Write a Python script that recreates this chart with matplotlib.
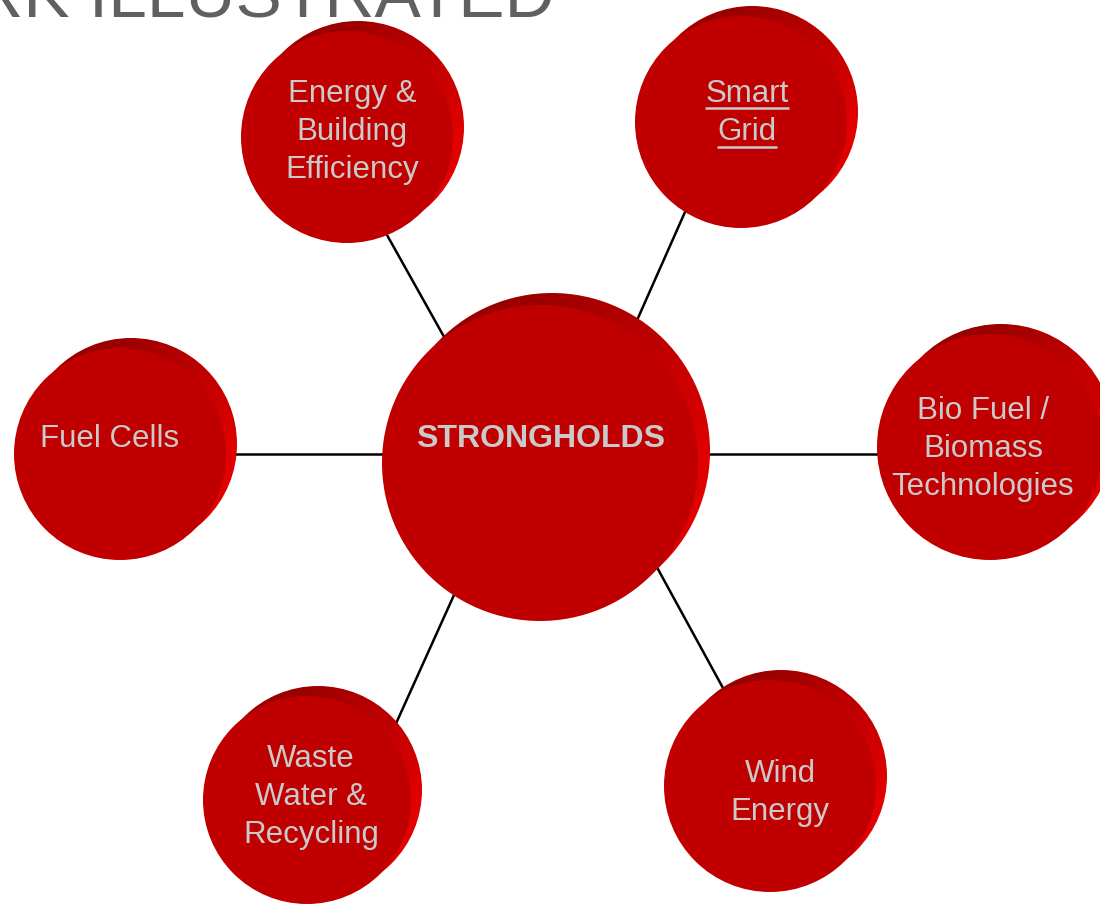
import numpy as np
import matplotlib
matplotlib.use("Agg")
import matplotlib.pyplot as plt
from matplotlib.patches import Circle

plt.rcParams['font.family'] = ['Liberation Sans', 'DejaVu Sans']

# ---- content ----
hub_label = "STRONGHOLDS"
labels = ["Energy &\nBuilding\nEfficiency", "Smart\nGrid", "Bio Fuel /\nBiomass\nTechnologies",
          "Wind\nEnergy", "Waste\nWater &\nRecycling", "Fuel Cells"]
underlined = [False, True, False, False, False, False]
title_text = "RK ILLUSTRATED"

# ---- layout (pixel coordinates, y downward) ----
hub_center = (540, 463)
hub_radius = 158
hub_text_pos = (541, 439)
sat_centers = [(347, 137), (741, 122), (990, 447), (770, 786), (307, 800), (120, 454)]
sat_radii = [106, 106, 113, 106, 104, 106]
text_pos = [(352, 132), (747, 113), (983, 449), (780, 793), (311, 797), (110, 439)]
# visible portion of each connector (extended under the circles)
connectors = [((387, 235), (443, 335)), ((685, 212), (638, 318)), ((710, 454), (877, 454)),
              ((659, 571), (723, 688)), ((454, 595), (403, 708)), ((237, 454), (383, 454))]

W, H = 1100, 905
fig = plt.figure(figsize=(W / 100, H / 100), dpi=100)
ax = fig.add_axes([0, 0, 1, 1])
ax.set_xlim(0, W)
ax.set_ylim(H, 0)
ax.set_aspect('equal')
ax.axis('off')

FACE = np.array([192, 0, 0]) / 255
DARK = np.array([155, 0, 0]) / 255
BRIGHT = np.array([226, 0, 0]) / 255
TXT = '#CACACA'

# connectors
for (p0, p1) in connectors:
    p0 = np.array(p0, float); p1 = np.array(p1, float)
    d = (p1 - p0) / np.linalg.norm(p1 - p0)
    a = p0 - d * 30
    b = p1 + d * 30
    ax.plot([a[0], b[0]], [a[1], b[1]], color='black', lw=1.8, zorder=1, solid_capstyle='butt')


def disc(cx, cy, r, dx, dy, z):
    # back (rim) circle with angular gradient
    bx, by = cx + dx, cy + dy
    x0, x1 = int(bx - r - 2), int(bx + r + 2)
    y0, y1 = int(by - r - 2), int(by + r + 2)
    xs = np.arange(x0, x1) + 0.5
    ys = np.arange(y0, y1) + 0.5
    X, Y = np.meshgrid(xs, ys)
    ang = np.degrees(np.arctan2(-(Y - cy), X - cx))
    t = np.clip(ang / 90.0, 0, 1)[..., None]
    img = BRIGHT * (1 - t) + DARK * t
    im = ax.imshow(img, extent=(x0, x1, y1, y0), origin='upper', zorder=z, interpolation='bilinear')
    back = Circle((bx, by), r, transform=ax.transData, facecolor='none', edgecolor='none')
    ax.add_patch(back)
    im.set_clip_path(back)
    ax.add_patch(Circle((cx, cy), r, facecolor=FACE, edgecolor='none', zorder=z + 0.5,
                        antialiased=True))


disc(hub_center[0], hub_center[1], hub_radius, 12, -12, 2)
for (cx, cy), r in zip(sat_centers, sat_radii):
    disc(cx, cy, r, 11, -10, 2)

ax.set_xlim(0, W)
ax.set_ylim(H, 0)

ax.text(hub_text_pos[0], hub_text_pos[1], hub_label, color=TXT, fontsize=23, fontweight='bold',
        ha='center', va='center', zorder=5)

line_gap = 39
underline_lines = []
for lab, (tx, ty), ul in zip(labels, text_pos, underlined):
    if not ul:
        ax.text(tx, ty, lab, color=TXT, fontsize=22.5, ha='center', va='center',
                linespacing=1.36, zorder=5)
    else:
        parts = lab.split("\n")
        n = len(parts)
        for i, p in enumerate(parts):
            yy = ty + (i - (n - 1) / 2) * line_gap
            t = ax.text(tx, yy, p, color=TXT, fontsize=22.5, ha='center', va='center', zorder=5)
            underline_lines.append(t)

fig.canvas.draw()
inv = ax.transData.inverted()
for t in underline_lines:
    bb = t.get_window_extent()
    (xa, ya), (xb, yb) = inv.transform([[bb.x0, bb.y0], [bb.x1, bb.y1]])
    x, y = t.get_position()
    ax.plot([xa, xb], [y + 15, y + 15], color=TXT, lw=1.8, zorder=5, solid_capstyle='butt')

ax.text(555, 17, title_text, color='#606060', fontsize=50, ha='right', va='baseline', zorder=5)

fig.savefig("out.png", dpi=100)
